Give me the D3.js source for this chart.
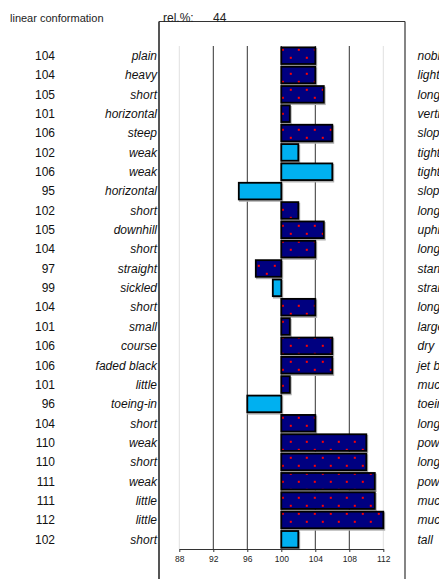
<!DOCTYPE html>
<html><head><meta charset="utf-8">
<script src="https://cdn.jsdelivr.net/npm/d3@7"></script>
<style>body{margin:0;background:#fff;overflow:hidden}svg{display:block;font-family:"Liberation Sans",Arial,sans-serif}</style>
</head><body>
<script>
const leftLabels = ["plain","heavy","short","horizontal","steep","weak","weak","horizontal","short","downhill","short","straight","sickled","short","small","course","faded black","little","toeing-in","short","weak","short","weak","little","little","short"];
const rightLabels = ["noble","light","long","vertical","sloping","tight","tight","sloping","long","uphill","long","standing","straight","long","large","dry","jet black","much","toeing-out","long","powerful","long","powerful","much","much","tall"];
const values = [104,104,105,101,106,102,106,95,102,105,104,97,99,104,101,106,106,101,96,104,110,110,111,111,112,102];
const kinds = ["d","d","d","d","d","l","l","l","d","d","d","d","l","d","d","d","d","d","l","d","d","d","d","d","d","l"];
const ticks = [88,92,96,100,104,108,112];
const title = "linear conformation";
const relLabel = "rel.%:";
const relValue = 44;

const W = 439, H = 579;
const svg = d3.select("body").append("svg").attr("width", W).attr("height", H);
const defs = svg.append("defs");
const pat = defs.append("pattern").attr("id","dots").attr("patternUnits","userSpaceOnUse")
  .attr("width",16).attr("height",16);
pat.append("rect").attr("width",16).attr("height",16).attr("fill","#000080");
pat.append("rect").attr("x",1.8).attr("y",8.8).attr("width",2).attr("height",2).attr("fill","#ff0000");
pat.append("rect").attr("x",9.8).attr("y",0.8).attr("width",2).attr("height",2).attr("fill","#ff0000");

const x = d3.scaleLinear().domain([88,112]).range([179.3,383.3]);
const y = d3.scaleBand().domain(d3.range(values.length)).range([46,549]).paddingInner(0.14).paddingOuter(0.07);

// frame
svg.append("line").attr("x1",159).attr("x2",159).attr("y1",21.5).attr("y2",H).attr("stroke","#555").attr("stroke-width",2);
svg.append("line").attr("x1",405).attr("x2",405).attr("y1",21.5).attr("y2",H).attr("stroke","#333").attr("stroke-width",1.2);
svg.append("line").attr("x1",159).attr("x2",405).attr("y1",21.5).attr("y2",21.5).attr("stroke","#333").attr("stroke-width",1.2);

svg.append("text").attr("x",10).attr("y",21.5).attr("font-size",11).attr("fill","#222").text(title);
svg.append("text").attr("x",163).attr("y",21.5).attr("font-size",12).attr("fill","#222").text(relLabel);
svg.append("text").attr("x",213).attr("y",21.5).attr("font-size",12).attr("fill","#222").text(relValue);

// grid
svg.append("g").selectAll("line").data(ticks).join("line")
  .attr("x1",d=>x(d)).attr("x2",d=>x(d)).attr("y1",46).attr("y2",549)
  .attr("stroke",d=>(d===88||d===112)?"#e0e0e0":"#333").attr("stroke-width",1);

// bars
const g = svg.append("g");
values.forEach((v,i)=>{
  const x0 = x(Math.min(v,100)), x1 = x(Math.max(v,100));
  g.append("rect").attr("x",x0+1).attr("y",y(i)+1.5).attr("width",x1-x0).attr("height",y.bandwidth())
    .attr("fill","none").attr("stroke","#b0b0b0").attr("stroke-width",1.8);
  g.append("rect").attr("x",x0).attr("y",y(i)).attr("width",x1-x0).attr("height",y.bandwidth())
    .attr("fill",kinds[i]==="d"?"url(#dots)":"#00b0f0").attr("stroke","#000").attr("stroke-width",1.8);
});

// axis
const ax = svg.append("g").attr("transform","translate(0,549)")
  .call(d3.axisBottom(x).tickValues(ticks).tickSize(3).tickPadding(4).tickSizeOuter(0));
ax.select(".domain").attr("stroke","#333");
ax.selectAll("line").attr("stroke","#333");
ax.selectAll("text").attr("font-size",8.5).attr("fill","#222").attr("font-family","Liberation Sans, Arial, sans-serif");

// labels
const lbl = svg.append("g").attr("font-size",12).attr("fill","#111");
lbl.selectAll(".num").data(values).join("text").attr("class","num")
  .attr("x",55).attr("y",(d,i)=>y(i)+y.bandwidth()/2).attr("dy","0.36em").attr("text-anchor","end").text(d=>d);
lbl.selectAll(".ll").data(leftLabels).join("text").attr("class","ll")
  .attr("x",157).attr("y",(d,i)=>y(i)+y.bandwidth()/2).attr("dy","0.36em").attr("text-anchor","end")
  .attr("font-style","italic").text(d=>d);
lbl.selectAll(".rl").data(rightLabels).join("text").attr("class","rl")
  .attr("x",417.5).attr("y",(d,i)=>y(i)+y.bandwidth()/2).attr("dy","0.36em")
  .attr("font-style","italic").text(d=>d);
</script>
</body></html>
